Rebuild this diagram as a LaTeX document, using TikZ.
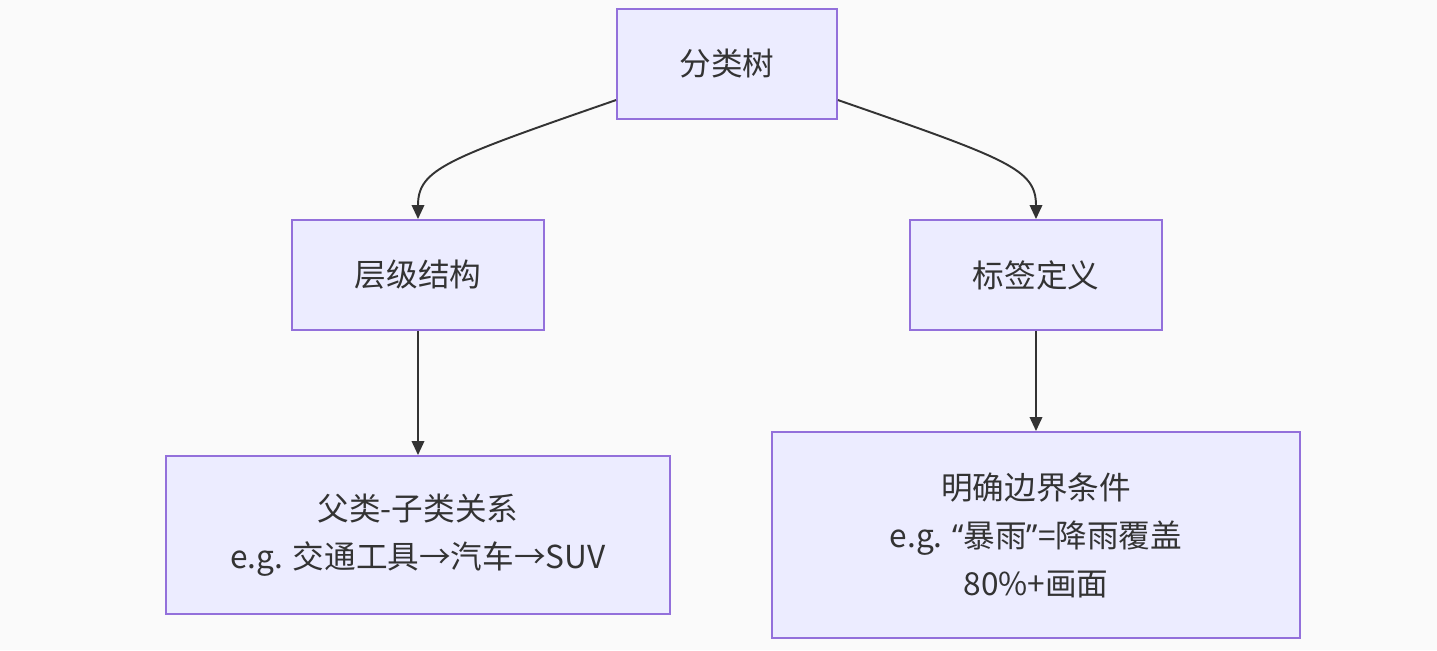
\documentclass[tikz,border=0pt]{standalone}
\usepackage{fontspec}
\usepackage{tikz}
\usetikzlibrary{positioning,arrows.meta}
\newfontfamily\cjk{Noto Sans CJK SC}
\newfontfamily\latin{Noto Sans}
\definecolor{boxfill}{HTML}{ECECFF}
\definecolor{boxline}{HTML}{9370DB}
\definecolor{inkgray}{HTML}{333333}
\definecolor{paper}{HTML}{FAFAFA}
\tikzset{
  box/.style={draw=boxline, fill=boxfill, line width=1.1pt, text=inkgray,
              align=center, font=\cjk\fontsize{18}{27.3}\selectfont},
  link/.style={-{Triangle[length=0.28cm,width=0.25cm]}, draw=inkgray, line width=1.1pt}
}

\begin{document}
\begin{tikzpicture}[x=0.02cm,y=-0.02cm]

\fill[paper] (0,0) rectangle (1437,650);
\useasboundingbox (0,0) rectangle (1437,650);

\node[box, minimum width=4.4cm,  minimum height=2.2cm ] (tree)  at ( 727,  64) {分类树};
\node[box, minimum width=5.04cm, minimum height=2.2cm ] (level) at ( 418, 275) {层级结构};
\node[box, minimum width=5.04cm, minimum height=2.2cm ] (label) at (1036, 275) {标签定义};
\node[box, minimum width=10.1cm, minimum height=3.16cm] (kin)   at ( 418, 535) {父类-子类关系\\e.g. 交通工具→汽车→SUV};
\node[box, minimum width=10.56cm,minimum height=4.12cm] (edge)  at (1036, 535) {明确边界条件\\e.g. {\latin “}暴雨{\latin ”}=降雨覆盖\\80\%+画面};

\draw[link] (tree.198) .. controls +(-170, 59) and +(0,-50) .. (level.north);
\draw[link] (tree.-18) .. controls +( 170, 59) and +(0,-50) .. (label.north);
\draw[link] (level) -- (kin);
\draw[link] (label) -- (edge);

\end{tikzpicture}
\end{document}
